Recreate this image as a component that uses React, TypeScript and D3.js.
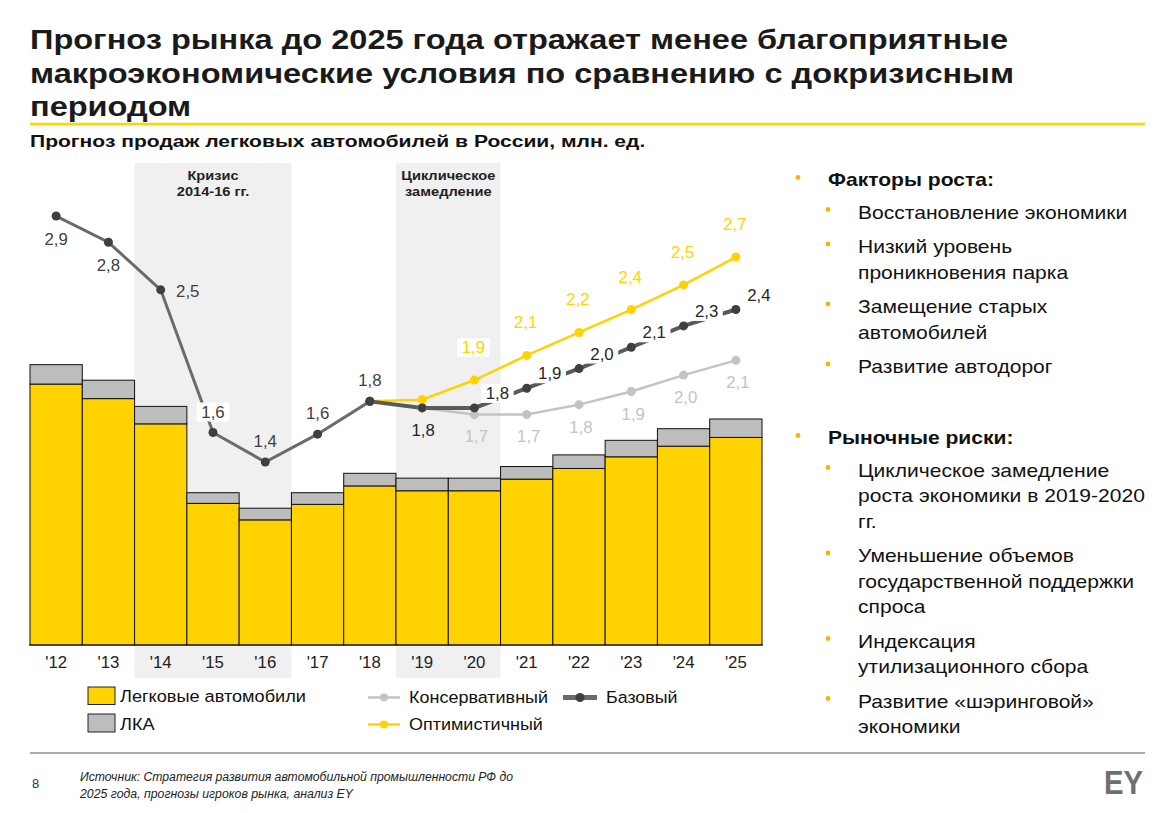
import React from "react";
import * as d3 from "d3";

// ---------- DATA ----------
const years = ["'12", "'13", "'14", "'15", "'16", "'17", "'18", "'19", "'20", "'21", "'22", "'23", "'24", "'25"];
const passengerCars = [2.69, 2.54, 2.28, 1.46, 1.29, 1.45, 1.64, 1.59, 1.59, 1.71, 1.82, 1.94, 2.05, 2.14];
const lcvCars = [0.2, 0.19, 0.18, 0.11, 0.12, 0.12, 0.13, 0.13, 0.13, 0.13, 0.14, 0.17, 0.18, 0.19];

const histYears = ["'12", "'13", "'14", "'15", "'16", "'17", "'18"];
const histValues = [2.94, 2.78, 2.49, 1.62, 1.44, 1.61, 1.81];

const baseYears = ["'18", "'19", "'20", "'21", "'22", "'23", "'24", "'25"];
const baseValues = [1.81, 1.77, 1.77, 1.89, 2.01, 2.14, 2.27, 2.37];

const consYears = ["'19", "'20", "'21", "'22", "'23", "'24", "'25"];
const consValues = [1.77, 1.73, 1.73, 1.79, 1.87, 1.97, 2.06];

const optYears = ["'18", "'19", "'20", "'21", "'22", "'23", "'24", "'25"];
const optValues = [1.81, 1.82, 1.94, 2.09, 2.23, 2.37, 2.52, 2.69];

const crisisBand = ["'14", "'16"];
const crisisLabel = ["Кризис", "2014-16 гг."];
const slowdownBand = ["'19", "'20"];
const slowdownLabel = ["Циклическое", "замедление"];

const titleLines = [
  "Прогноз рынка до 2025 года отражает менее благоприятные",
  "макроэкономические условия по сравнению с докризисным",
  "периодом",
];
const subtitle = "Прогноз продаж легковых автомобилей в России, млн. ед.";

const growthHeader = "Факторы роста:";
const growthItems = [
  ["Восстановление экономики"],
  ["Низкий уровень", "проникновения парка"],
  ["Замещение старых", "автомобилей"],
  ["Развитие автодорог"],
];
const riskHeader = "Рыночные риски:";
const riskItems = [
  ["Циклическое замедление", "роста экономики в 2019-2020", "гг."],
  ["Уменьшение объемов", "государственной поддержки", "спроса"],
  ["Индексация", "утилизационного сбора"],
  ["Развитие «шэринговой»", "экономики"],
];
const sourceLines = [
  "Источник: Стратегия развития автомобильной промышленности РФ до",
  "2025 года, прогнозы игроков рынка, анализ EY",
];

// ---------- STYLE ----------
const FONT = "'Liberation Sans', Arial, sans-serif";
const YELLOW = "#ffd200";
const BAR_GRAY = "#bdbdbd";
const BAND = "#f0f0f0";
const HIST_LINE = "#6b6b6b";
const BASE_LINE = "#5a5a5a";
const MARK_DARK = "#3f3f3f";
const CONS = "#c3c3c3";
const STRETCH = 1.17;

const fmt = (v: number) => (Math.round(v * 10) / 10).toFixed(1).replace(".", ",");

type TxtProps = {
  x: number;
  y: number;
  sx?: number;
  children: React.ReactNode;
  [k: string]: any;
};
function Txt({ x, y, sx = 1, children, ...rest }: TxtProps) {
  return (
    <text transform={`translate(${x},${y}) scale(${sx},1)`} x={0} y={0} fontFamily={FONT} {...rest}>
      {children}
    </text>
  );
}

export default function App() {
  const W = 1171;
  const H = 813;
  const x = d3.scaleBand<string>().domain(years).range([30, 762]).padding(0);
  const bw = x.bandwidth();
  const cx = (y: string) => (x(y) as number) + bw / 2;
  const yBar = d3.scaleLinear().domain([0, 3]).range([645, 354]);
  const yLine = d3.scaleLinear().domain([0, 3]).range([698.2, 206.2]);

  const line = d3
    .line<[string, number]>()
    .x((d) => cx(d[0]))
    .y((d) => yLine(d[1]));

  const zip = (ys: string[], vs: number[]) => ys.map((y, i) => [y, vs[i]] as [string, number]);
  const hist = zip(histYears, histValues);
  const base = zip(baseYears, baseValues);
  const cons = zip(consYears, consValues);
  const opt = zip(optYears, optValues);

  const band = (r: string[]) => {
    const x0 = x(r[0]) as number;
    const x1 = (x(r[1]) as number) + bw;
    return { x0, x1 };
  };
  const cb = band(crisisBand);
  const sb = band(slowdownBand);

  const histPlace = ["below", "below", "right", "above", "above", "above", "above"];

  const labelBox = (lx: number, ly: number, txt: string, color: string, boxed: boolean, key: string) => {
    const w = txt.length * 9.5 + 4;
    return (
      <g key={key}>
        {boxed && <rect x={lx - w / 2} y={ly - 15} width={w} height={19} fill="#ffffff" />}
        <Txt x={lx} y={ly} sx={1.05} textAnchor="middle" fontSize={16} fill={color}>
          {txt}
        </Txt>
      </g>
    );
  };

  const rightX = 798;
  const rightTextX = 828;
  const subBulletX = 828;
  const subTextX = 858;

  const rightEls: JSX.Element[] = [];
  let yy = 185.5;
  const addSection = (header: string, items: string[][], key: string) => {
    rightEls.push(<circle key={key + "b"} cx={rightX} cy={yy - 8} r={2.4} fill="#f5b400" />);
    rightEls.push(
      <Txt key={key + "h"} x={rightTextX} y={yy} sx={STRETCH} fontSize={18} fontWeight="bold" fill="#111">
        {header}
      </Txt>
    );
    yy += 33;
    items.forEach((lines, i) => {
      rightEls.push(<circle key={key + "sb" + i} cx={subBulletX} cy={yy - 9} r={2.4} fill="#f5b400" />);
      lines.forEach((ln, j) => {
        rightEls.push(
          <Txt key={key + "t" + i + "_" + j} x={subTextX} y={yy} sx={STRETCH} fontSize={18} fill="#111">
            {ln}
          </Txt>
        );
        yy += j < lines.length - 1 ? 25.5 : 0;
      });
      yy += 34.5;
    });
  };
  addSection(growthHeader, growthItems, "g");
  yy = 443.5;
  addSection(riskHeader, riskItems, "r");

  return (
    <svg
      width={W}
      height={H}
      viewBox={`0 0 ${W} ${H}`}
      style={{ position: "absolute", left: 0, top: 0, background: "#fff" }}
    >
      <rect x={0} y={0} width={W} height={H} fill="#fff" />
      {/* Title */}
      {titleLines.map((t, i) => (
        <Txt key={"t" + i} x={30} y={49 + i * 33.5} sx={1.162} fontSize={28} fontWeight="bold" fill="#1a1a1a">
          {t}
        </Txt>
      ))}
      <line x1={30} x2={1145} y1={124} y2={124} stroke={YELLOW} strokeWidth={2.5} />
      <Txt x={30} y={147} sx={1.24} fontSize={17} fontWeight="bold" fill="#111">
        {subtitle}
      </Txt>

      {/* Bands */}
      <rect x={cb.x0} y={163} width={cb.x1 - cb.x0} height={515} fill={BAND} />
      <rect x={sb.x0} y={163} width={sb.x1 - sb.x0} height={515} fill={BAND} />
      {crisisLabel.map((t, i) => (
        <Txt key={"cl" + i} x={(cb.x0 + cb.x1) / 2} y={180 + i * 16} sx={STRETCH} textAnchor="middle" fontSize={12.5} fontWeight="bold" fill="#222">
          {t}
        </Txt>
      ))}
      {slowdownLabel.map((t, i) => (
        <Txt key={"sl" + i} x={(sb.x0 + sb.x1) / 2} y={180 + i * 16} sx={STRETCH} textAnchor="middle" fontSize={12.5} fontWeight="bold" fill="#222">
          {t}
        </Txt>
      ))}

      {/* Bars */}
      {years.map((yr, i) => {
        const x0 = x(yr) as number;
        const pTop = yBar(passengerCars[i]);
        const lTop = yBar(passengerCars[i] + lcvCars[i]);
        return (
          <g key={"bar" + i}>
            <rect x={x0} y={pTop} width={bw} height={yBar(0) - pTop} fill={YELLOW} stroke="#111" strokeWidth={1} />
            <rect x={x0} y={lTop} width={bw} height={pTop - lTop} fill={BAR_GRAY} stroke="#111" strokeWidth={1} />
          </g>
        );
      })}
      <line x1={29} x2={763} y1={yBar(0)} y2={yBar(0)} stroke="#111" strokeWidth={1.2} />

      {/* X ticks */}
      {years.map((yr) => (
        <Txt key={"xt" + yr} x={cx(yr)} y={668} sx={1.05} textAnchor="middle" fontSize={16} fill="#222">
          {yr}
        </Txt>
      ))}

      {/* Lines */}
      <path d={line(cons) || ""} fill="none" stroke={CONS} strokeWidth={2.5} />
      <path d={line(opt) || ""} fill="none" stroke={YELLOW} strokeWidth={2.5} />
      <path d={line(base) || ""} fill="none" stroke={BASE_LINE} strokeWidth={4} />
      <path d={line(hist) || ""} fill="none" stroke={HIST_LINE} strokeWidth={3} />

      {/* Labels */}
      {hist.map((d, i) => {
        const px = cx(d[0]);
        const py = yLine(d[1]);
        const p = histPlace[i];
        const lx = p === "right" ? px + 27 : px;
        const ly = p === "below" ? py + 29 : p === "right" ? py + 7 : py - 15;
        return labelBox(lx, ly, fmt(d[1]), "#404040", i === 3, "hl" + i);
      })}
      {cons.slice(1).map((d, i) =>
        labelBox(cx(d[0]) + 2, yLine(d[1]) + 28, fmt(d[1]), CONS, false, "cl" + i)
      )}
      {opt.slice(2).map((d, i) =>
        labelBox(cx(d[0]) - 1, yLine(d[1]) - 27, fmt(d[1]), YELLOW, true, "ol" + i)
      )}
      {labelBox(cx(base[1][0]) + 1, yLine(base[1][1]) + 28, fmt(base[1][1]), "#262626", false, "bl19")}
      {base.slice(2).map((d, i) =>
        labelBox(cx(d[0]) + 23, yLine(d[1]) - 9, fmt(d[1]), "#262626", true, "bl" + i)
      )}

      {/* Markers */}
      {cons.map((d, i) => (
        <circle key={"cm" + i} cx={cx(d[0])} cy={yLine(d[1])} r={4.5} fill={CONS} />
      ))}
      {opt.map((d, i) => (
        <circle key={"om" + i} cx={cx(d[0])} cy={yLine(d[1])} r={4.5} fill={YELLOW} />
      ))}
      {base.map((d, i) => (
        <circle key={"bm" + i} cx={cx(d[0])} cy={yLine(d[1])} r={4.5} fill={MARK_DARK} />
      ))}
      {hist.map((d, i) => (
        <circle key={"hm" + i} cx={cx(d[0])} cy={yLine(d[1])} r={4.5} fill={MARK_DARK} />
      ))}

      {/* Legend */}
      <rect x={88} y={687} width={27} height={17.5} fill={YELLOW} stroke="#222" strokeWidth={1} />
      <Txt x={120} y={702} sx={1.1} fontSize={16.5} fill="#111">Легковые автомобили</Txt>
      <rect x={88} y={714} width={27} height={18} fill={BAR_GRAY} stroke="#222" strokeWidth={1} />
      <Txt x={120} y={730} sx={1.1} fontSize={16.5} fill="#111">ЛКА</Txt>

      <line x1={368} x2={400} y1={697.5} y2={697.5} stroke={CONS} strokeWidth={2.5} />
      <circle cx={384} cy={697.5} r={4} fill={CONS} />
      <Txt x={409} y={703} sx={1.09} fontSize={16.5} fill="#111">Консервативный</Txt>
      <line x1={563} x2={597} y1={697.5} y2={697.5} stroke={"#6b6b6b"} strokeWidth={5} />
      <circle cx={580} cy={697.5} r={4.5} fill={MARK_DARK} />
      <Txt x={606} y={703} sx={1.08} fontSize={16.5} fill="#111">Базовый</Txt>
      <line x1={368} x2={400} y1={724.5} y2={724.5} stroke={YELLOW} strokeWidth={2.5} />
      <circle cx={384} cy={724.5} r={4} fill={YELLOW} />
      <Txt x={409} y={730} sx={1.09} fontSize={16.5} fill="#111">Оптимистичный</Txt>

      {/* Right panel */}
      {rightEls}

      {/* Footer */}
      <line x1={30} x2={1145} y1={753} y2={753} stroke="#555" strokeWidth={1} />
      <text x={32} y={788} fontSize={13} fill="#333" fontFamily={FONT}>8</text>
      {sourceLines.map((t, i) => (
        <text
          key={"src" + i}
          x={80}
          y={781 + i * 17}
          fontSize={12.5}
          fontStyle="italic"
          fill="#222"
          fontFamily="'Liberation Sans Narrow', 'Liberation Sans', Arial, sans-serif"
          textLength={i === 0 ? 433 : 273}
          lengthAdjust="spacingAndGlyphs"
        >
          {t}
        </text>
      ))}
      <text x={1104} y={794} fontSize={33} fontWeight="bold" fill="#6f6f6f" fontFamily="'Liberation Sans Narrow', 'Liberation Sans', sans-serif" textLength={39} lengthAdjust="spacingAndGlyphs">
        EY
      </text>
    </svg>
  );
}
